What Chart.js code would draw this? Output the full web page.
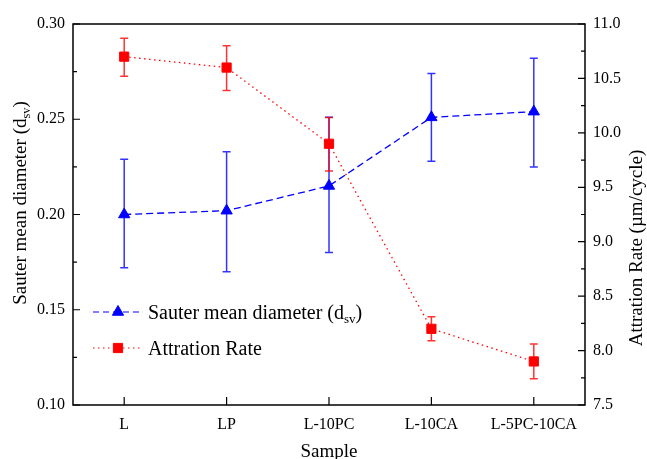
<!DOCTYPE html>
<html>
<head>
<meta charset="utf-8">
<script src="https://cdn.jsdelivr.net/npm/chart.js@4/dist/chart.umd.min.js"></script>
<style>
  html, body { margin: 0; padding: 0; background: #fff; }
  #wrap { width: 647px; height: 459px; }
</style>
</head>
<body>
<div id="wrap"><canvas id="chart"></canvas></div>
<script>
const categories = ['L', 'LP', 'L-10PC', 'L-10CA', 'L-5PC-10CA'];

const dsvValues = [0.200, 0.202, 0.215, 0.251, 0.254];
const dsvLow = [0.172, 0.170, 0.180, 0.228, 0.225];
const dsvHigh = [0.229, 0.233, 0.251, 0.274, 0.282];

const rateValues = [10.70, 10.60, 9.90, 8.20, 7.90];
const rateLow = [10.52, 10.39, 9.65, 8.09, 7.74];
const rateHigh = [10.87, 10.80, 10.14, 8.31, 8.06];

const FONT = "'Liberation Serif', 'Times New Roman', serif";
const BLUE = '#0000ff';
const RED = '#ff0000';

// text with a subscript part, e.g. d_sv
function richWidth(ctx, parts, size) {
    let w = 0;
    parts.forEach(p => {
        ctx.font = (p.sub ? size * 0.65 : size) + 'px ' + FONT;
        w += ctx.measureText(p.t).width;
    });
    return w;
}

function drawRich(ctx, parts, x, y, size) {
    ctx.textBaseline = 'alphabetic';
    ctx.textAlign = 'left';
    parts.forEach(p => {
        ctx.font = (p.sub ? size * 0.65 : size) + 'px ' + FONT;
        ctx.fillText(p.t, x, p.sub ? y + size * 0.22 : y);
        x += ctx.measureText(p.t).width;
    });
}

const dsvLabel = [{t: 'Sauter mean diameter (d'}, {t: 'sv', sub: true}, {t: ')'}];

const framePlugin = {
    id: 'framePlugin',
    beforeDatasetsDraw(chart) {
        const ctx = chart.ctx;
        const x = chart.scales.x;
        const bars = [
            {scale: chart.scales.y, lo: dsvLow, hi: dsvHigh, color: 'rgba(0,0,255,0.8)'},
            {scale: chart.scales.y1, lo: rateLow, hi: rateHigh, color: 'rgba(255,0,0,0.8)'}
        ];
        ctx.save();
        ctx.lineWidth = 1.5;
        bars.forEach(b => {
            ctx.strokeStyle = b.color;
            categories.forEach((c, i) => {
                const px = x.getPixelForValue(i);
                const y1 = b.scale.getPixelForValue(b.lo[i]);
                const y2 = b.scale.getPixelForValue(b.hi[i]);
                ctx.beginPath();
                ctx.moveTo(px, y1); ctx.lineTo(px, y2);
                ctx.moveTo(px - 4, y1); ctx.lineTo(px + 4, y1);
                ctx.moveTo(px - 4, y2); ctx.lineTo(px + 4, y2);
                ctx.stroke();
            });
        });
        ctx.restore();
    },
    afterDraw(chart) {
        const ctx = chart.ctx;
        const a = chart.chartArea;
        const yl = chart.scales.y, yr = chart.scales.y1, x = chart.scales.x;
        ctx.save();
        ctx.strokeStyle = '#000';
        ctx.lineWidth = 1.5;
        ctx.strokeRect(a.left, a.top, a.right - a.left, a.bottom - a.top);

        // inward ticks
        ctx.lineWidth = 1.2;
        ctx.beginPath();
        const yTicks = (scale, side) => {
            const vals = scale.ticks.map(t => t.value);
            vals.forEach((v, i) => {
                const py = scale.getPixelForValue(v);
                if (side === 'l') { ctx.moveTo(a.left, py); ctx.lineTo(a.left + 7, py); }
                else { ctx.moveTo(a.right, py); ctx.lineTo(a.right - 7, py); }
                if (i < vals.length - 1) {
                    const pm = scale.getPixelForValue((v + vals[i + 1]) / 2);
                    if (side === 'l') { ctx.moveTo(a.left, pm); ctx.lineTo(a.left + 4, pm); }
                    else { ctx.moveTo(a.right, pm); ctx.lineTo(a.right - 4, pm); }
                }
            });
        };
        yTicks(yl, 'l');
        yTicks(yr, 'r');
        categories.forEach((c, i) => {
            const px = x.getPixelForValue(i);
            ctx.moveTo(px, a.bottom); ctx.lineTo(px, a.bottom - 8);
        });
        ctx.stroke();

        // axis titles
        ctx.fillStyle = '#000';
        ctx.font = '19px ' + FONT;
        ctx.textAlign = 'center';
        ctx.textBaseline = 'alphabetic';
        ctx.fillText('Sample', (a.left + a.right) / 2, 457);

        ctx.save();
        ctx.translate(26, 203);
        ctx.rotate(-Math.PI / 2);
        const wl = richWidth(ctx, dsvLabel, 19);
        drawRich(ctx, dsvLabel, -wl / 2, 0, 19);
        ctx.restore();

        ctx.save();
        ctx.translate(642, 248);
        ctx.rotate(-Math.PI / 2);
        ctx.font = '19px ' + FONT;
        ctx.textAlign = 'center';
        ctx.fillText('Attration Rate (\u00b5m/cycle)', 0, 0);
        ctx.restore();

        // legend
        const rows = [
            {y: 312, color: BLUE, dash: [6, 4], style: 'triangle', parts: dsvLabel},
            {y: 348, color: RED, dash: [1.5, 3.5], style: 'rect', parts: [{t: 'Attration Rate'}]}
        ];
        rows.forEach(r => {
            ctx.save();
            ctx.strokeStyle = r.color;
            ctx.lineWidth = 1.2;
            ctx.setLineDash(r.dash);
            ctx.beginPath();
            ctx.moveTo(93, r.y); ctx.lineTo(142, r.y);
            ctx.stroke();
            ctx.setLineDash([]);
            ctx.fillStyle = r.color;
            ctx.lineWidth = 1;
            Chart.helpers.drawPoint(ctx, {pointStyle: r.style, radius: 6.5, borderWidth: 1}, 118, r.y);
            ctx.restore();
            ctx.fillStyle = '#000';
            drawRich(ctx, r.parts, 148, r.y + 7, 20);
        });
        ctx.restore();
    }
};

new Chart(document.getElementById('chart').getContext('2d'), {
    type: 'line',
    data: {
        labels: categories,
        datasets: [{
            label: 'Sauter mean diameter (dsv)',
            data: dsvValues,
            yAxisID: 'y',
            borderColor: BLUE,
            backgroundColor: BLUE,
            borderWidth: 1.3,
            borderDash: [7, 4],
            pointStyle: 'triangle',
            pointRadius: 6.5,
            pointBorderWidth: 1,
            tension: 0
        }, {
            label: 'Attration Rate',
            data: rateValues,
            yAxisID: 'y1',
            borderColor: RED,
            backgroundColor: RED,
            borderWidth: 1.3,
            borderDash: [1.5, 3.5],
            pointStyle: 'rect',
            pointRadius: 6.5,
            pointBorderWidth: 1,
            tension: 0
        }]
    },
    options: {
        responsive: true,
        maintainAspectRatio: false,
        animation: false,
        layout: { padding: { top: 24, left: 0, right: 0, bottom: 0 } },
        plugins: {
            legend: { display: false },
            tooltip: { enabled: false }
        },
        scales: {
            x: {
                offset: true,
                grid: { display: false, drawTicks: false },
                border: { display: false },
                ticks: { color: '#000', font: { family: FONT, size: 16 }, padding: 10, maxRotation: 0 },
                afterFit(scale) { scale.height = 54; }
            },
            y: {
                position: 'left',
                min: 0.10,
                max: 0.30,
                grid: { display: false, drawTicks: false },
                border: { display: false },
                ticks: {
                    stepSize: 0.05,
                    color: '#000',
                    font: { family: FONT, size: 16 },
                    padding: 8,
                    callback: v => v.toFixed(2)
                },
                afterFit(scale) { scale.width = 73; }
            },
            y1: {
                position: 'right',
                min: 7.5,
                max: 11.0,
                grid: { display: false, drawTicks: false },
                border: { display: false },
                ticks: {
                    stepSize: 0.5,
                    color: '#000',
                    font: { family: FONT, size: 16 },
                    padding: 8,
                    callback: v => v.toFixed(1)
                },
                afterFit(scale) { scale.width = 62; }
            }
        }
    },
    plugins: [framePlugin]
});
</script>
</body>
</html>
